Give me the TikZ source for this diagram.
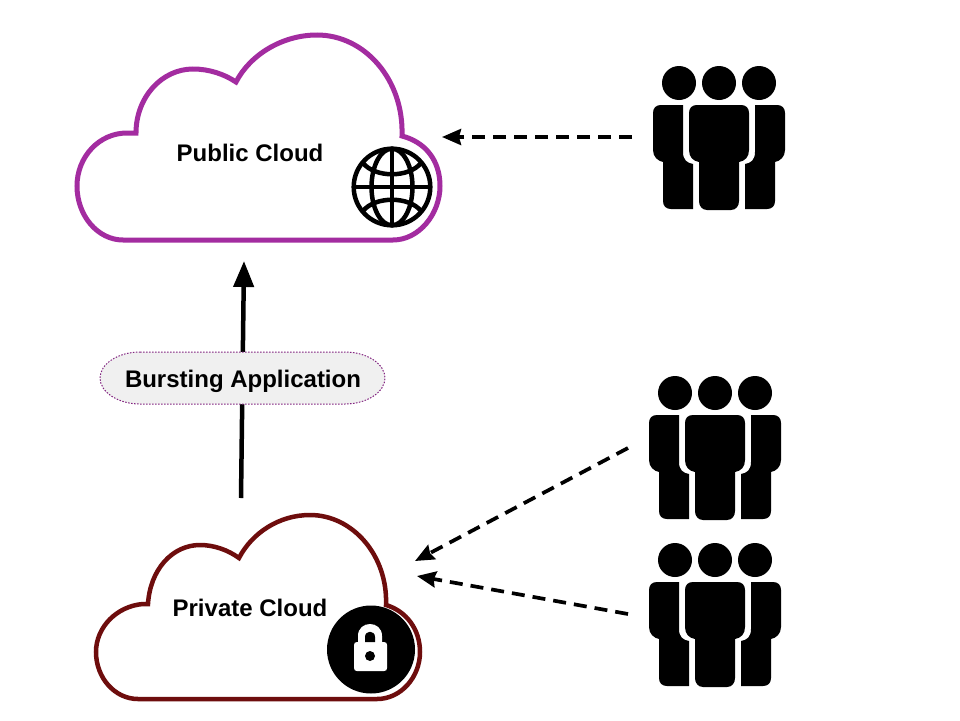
\documentclass[tikz,border=0pt]{standalone}
\usepackage{fontspec}
\setmainfont{Liberation Sans}
\usetikzlibrary{arrows.meta}
\definecolor{pubc}{HTML}{A32CA0}
\definecolor{privc}{HTML}{6E0D0D}
\definecolor{pillfill}{HTML}{F0F0F0}
\tikzset{
  x=1pt,y=-1pt,
  cloudtext/.style={font=\fontsize{24}{28}\selectfont\bfseries,text=black,inner sep=0pt},
  dashlink/.style={line width=3.7pt,dash pattern=on 13pt off 8pt,-{Stealth[length=19pt,width=16pt,inset=2pt]}},
  burstlink/.style={line width=4.5pt,-{Triangle[length=26pt,width=20pt]}},
  pics/crowd/.style={code={
    \fill[black] (679,83) circle [radius=17] (719,83) circle [radius=17] (759,83) circle [radius=17];
    \fill[black] (683,105) -- (661,105) .. controls (656,105) and (653,108) .. (653,113) -- (653,150) .. controls (653,157) and (658,161) .. (663,162) -- (663,201) .. controls (663,206) and (666,209) .. (671,209) -- (693,209) -- (693,164) .. controls (687,163) and (683,160) .. (683,152) -- cycle;
    \fill[black] (697,105) -- (741,105) .. controls (746,105) and (749,108) .. (749,113) -- (749,150) .. controls (749,157) and (745,161) .. (739,162) -- (739,201) .. controls (739,206) and (736,210) .. (731,210) -- (707,210) .. controls (702,210) and (699,206) .. (699,201) -- (699,162) .. controls (693,161) and (689,157) .. (689,150) -- (689,113) .. controls (689,108) and (692,105) .. (697,105) -- cycle;
    \fill[black] (755,105) -- (777,105) .. controls (782,105) and (785,108) .. (785,113) -- (785,150) .. controls (785,157) and (780,161) .. (775,162) -- (775,201) .. controls (775,206) and (772,209) .. (767,209) -- (745,209) -- (745,164) .. controls (751,163) and (755,160) .. (755,152) -- cycle;
  }}
}
\begin{document}
\begin{tikzpicture}
\useasboundingbox (0,0) rectangle (960,720);
\fill[white] (0,0) rectangle (960,720);

% public cloud
\draw[pubc,line width=5pt,line join=miter] (123,240) -- (393,240)
  .. controls (419,240) and (440,214) .. (440,186)
  .. controls (440,160) and (425,142) .. (402,136)
  .. controls (404,80) and (365,35) .. (317,35)
  .. controls (282,35) and (250,55) .. (236,82)
  .. controls (224,74) and (209,69) .. (193,69)
  .. controls (162,69) and (136,97) .. (136,133)
  -- (127,133)
  .. controls (99,133) and (77,157) .. (77,186)
  .. controls (77,216) and (98,240) .. (123,240) -- cycle;
\node[cloudtext] (pubtext) at (250,152.5) {Public Cloud};

% globe
\begin{scope}[black,line width=4.5pt]
  \draw (392,187) circle [radius=38.3];
  \draw (392,149) -- (392,225);
  \draw (354,187) -- (430,187);
  \draw (392,187) ellipse [x radius=20.5,y radius=38.3];
  \draw (363,163) .. controls (375,178) and (409,178) .. (421,163);
  \draw (363,211) .. controls (375,196) and (409,196) .. (421,211);
\end{scope}

% private cloud
\draw[privc,line width=4.5pt,line join=miter] (138,699) -- (377,699)
  .. controls (401,699) and (420,677) .. (420,652)
  .. controls (420,629) and (406,611) .. (386,605)
  .. controls (388,556) and (353,515) .. (310,515)
  .. controls (279,515) and (252,533) .. (239,558)
  .. controls (228,550) and (214,545) .. (200,545)
  .. controls (172,545) and (150,570) .. (148,604)
  -- (143,604)
  .. controls (117,606) and (96,627) .. (96,652)
  .. controls (96,678) and (115,699) .. (138,699) -- cycle;
\node[cloudtext] (privtext) at (250,608) {Private Cloud};

% lock
\fill[black] (371,649.5) circle [radius=44];
\fill[white] (358,643) -- (358,636) .. controls (358,620) and (382,620) .. (382,636) -- (382,643) -- cycle;
\fill[white] (357,642) -- (384,642) .. controls (386,642) and (387,643) .. (387,645) -- (387,668) .. controls (387,670) and (386,671) .. (384,671) -- (357,671) .. controls (355,671) and (354,670) .. (354,668) -- (354,645) .. controls (354,643) and (355,642) .. (357,642) -- cycle;
\fill[black] (365,642) -- (365,637) .. controls (365,630) and (375,630) .. (375,637) -- (375,642) -- cycle;
\fill[black] (370,656) circle [radius=5];

% crowds
\pic at (0,0) {crowd};
\pic at (-4,310) {crowd};
\pic at (-4,477) {crowd};

% connectors
\coordinate (pubin) at (442,137);
\coordinate (crowdA) at (632,137);
\coordinate (privinA) at (415,561);
\coordinate (crowdB) at (628,448);
\coordinate (privinB) at (417,576);
\coordinate (crowdC) at (628,614);
\coordinate (burstfrom) at (241,498);
\coordinate (burstto) at (244,261);
\draw[dashlink] (crowdA) -- (pubin);
\draw[dashlink] (crowdB) -- (privinA);
\draw[dashlink] (crowdC) -- (privinB);
\draw[burstlink] (burstfrom) -- (burstto);

% label
\draw[fill=pillfill,draw=pubc!80!black,line width=1pt,dash pattern=on 1.5pt off 1.5pt]
  (140,352) -- (345,352) .. controls (367,352) and (385,364) .. (385,378)
  .. controls (385,392) and (367,404) .. (345,404) -- (140,404)
  .. controls (118,404) and (100,392) .. (100,378)
  .. controls (100,364) and (118,352) .. (140,352) -- cycle;
\node[cloudtext] (bursttext) at (243,381) {Bursting Application};
\end{tikzpicture}
\end{document}
